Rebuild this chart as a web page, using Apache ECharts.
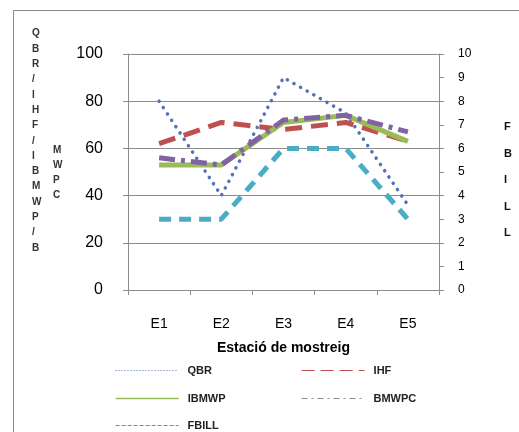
<!DOCTYPE html>
<html>
<head>
<meta charset="utf-8">
<script src="https://cdn.jsdelivr.net/npm/echarts@6/dist/echarts.min.js"></script>
<style>
html,body{margin:0;padding:0;background:#fff;}
#chart{width:519px;height:432px;}
</style>
</head>
<body>
<div id="chart"></div>
<script>
const categories = ['E1', 'E2', 'E3', 'E4', 'E5'];
const qbr = [80, 40, 90, 75, 36];
const ihf = [62, 71, 68, 71, 63];
const ibmwp = [53, 53, 71, 74, 63];
const bmwpc = [56, 53, 72, 74, 67];
const fbill = [3, 3, 6, 6, 3];
const leftTicks = [0, 20, 40, 60, 80, 100];
const rightTicks = [0, 1, 2, 3, 4, 5, 6, 7, 8, 9, 10];
const leftTitle1 = 'QBR/IHF/IBMWP/B';
const leftTitle2 = 'MWPC';
const rightTitle = 'FBILL';
const xTitle = 'Estació de mostreig';

const chart = echarts.init(document.getElementById('chart'), null, {renderer: 'canvas'});
const font = "'Liberation Sans', 'DejaVu Sans', sans-serif";
const axisGray = '#8c8c8c';

function mkSeries(name, data, color, width, type, cap, yIdx) {
  return {
    name, type: 'line', data, yAxisIndex: yIdx || 0,
    symbol: 'none', smooth: false,
    lineStyle: {color, width, type, cap: cap || 'butt'},
    itemStyle: {color},
    z: 2
  };
}

const legendLines = {
  QBR: {width: 1, type: [1, 2], color: '#9fb0d6'},
  IHF: {width: 1.2, type: [13, 6], color: '#c0504d'},
  IBMWP: {width: 1.3, type: 'solid', color: '#9BBB59'},
  BMWPC: {width: 1, type: [6, 4, 2, 4], color: '#8a8a9a'},
  FBILL: {width: 1.2, type: [4, 2], color: '#3a9fc0'}
};
const legendText = {color: '#222', fontSize: 11, fontWeight: 'bold', fontFamily: font, padding: [0, 0, 0, 4]};
function mkLegend(name, left, top) {
  return {
    data: [{name, lineStyle: legendLines[name]}],
    left, top, padding: 0, itemWidth: 63, itemHeight: 10,
    textStyle: legendText,
    itemStyle: {opacity: 0}
  };
}

const option = {
  backgroundColor: '#fff',
  animation: false,
  grid: {left: 128, right: 80, top: 54, bottom: 142},
  xAxis: {
    type: 'category', data: categories, boundaryGap: true,
    axisLine: {lineStyle: {color: axisGray, width: 1}},
    axisTick: {show: true, inside: false, length: 5, lineStyle: {color: axisGray}},
    axisLabel: {color: '#000', fontSize: 14, fontFamily: font, margin: 27},
    name: xTitle, nameLocation: 'middle', nameGap: 51,
    nameTextStyle: {color: '#000', fontSize: 14, fontWeight: 'bold', fontFamily: font}
  },
  yAxis: [
    {
      type: 'value', min: leftTicks[0], max: leftTicks[leftTicks.length - 1], interval: 20,
      axisLine: {show: true, lineStyle: {color: axisGray}},
      axisTick: {show: true, length: 5, lineStyle: {color: axisGray}},
      axisLabel: {color: '#000', fontSize: 16, fontFamily: font, margin: 25},
      splitLine: {show: true, lineStyle: {color: axisGray, width: 1}}
    },
    {
      type: 'value', min: rightTicks[0], max: rightTicks[rightTicks.length - 1], interval: 1,
      position: 'right',
      axisLine: {show: true, lineStyle: {color: axisGray}},
      axisTick: {show: true, length: 5, lineStyle: {color: axisGray}},
      axisLabel: {color: '#000', fontSize: 12, fontFamily: font, margin: 19},
      splitLine: {show: false}
    }
  ],
  legend: [
    mkLegend('QBR', 115, 365),
    mkLegend('IHF', 301, 365),
    mkLegend('IBMWP', 115, 393),
    mkLegend('BMWPC', 301, 393),
    mkLegend('FBILL', 115, 420)
  ],
  series: [
    mkSeries('QBR', qbr, '#5470B8', 3.5, [0.1, 7.5], 'round'),
    mkSeries('IHF', ihf, '#C0504D', 5, [17, 9]),
    mkSeries('IBMWP', ibmwp, '#9BBB59', 5, 'solid'),
    mkSeries('BMWPC', bmwpc, '#8064A2', 5, [16, 6, 4, 6]),
    mkSeries('FBILL', fbill, '#4BACC6', 5, [12, 8], 'butt', 1)
  ],
  graphic: [
    {type: 'rect', shape: {x: 13.5, y: 10.5, width: 520, height: 440},
     style: {fill: 'none', stroke: '#8a8a8a', lineWidth: 1}, silent: true},
    {type: 'text', left: 32, top: 26,
     style: {text: leftTitle1.split('').join('\n'), fill: '#333', font: 'bold 10px ' + font, lineHeight: 15.3, align: 'center'}},
    {type: 'text', left: 53, top: 143,
     style: {text: leftTitle2.split('').join('\n'), fill: '#333', font: 'bold 10px ' + font, lineHeight: 15, align: 'center'}},
    {type: 'text', left: 504, top: 114,
     style: {text: rightTitle.split('').join('\n'), fill: '#111', font: 'bold 11px ' + font, lineHeight: 26.5, align: 'center'}}
  ]
};
chart.setOption(option);
</script>
</body>
</html>
